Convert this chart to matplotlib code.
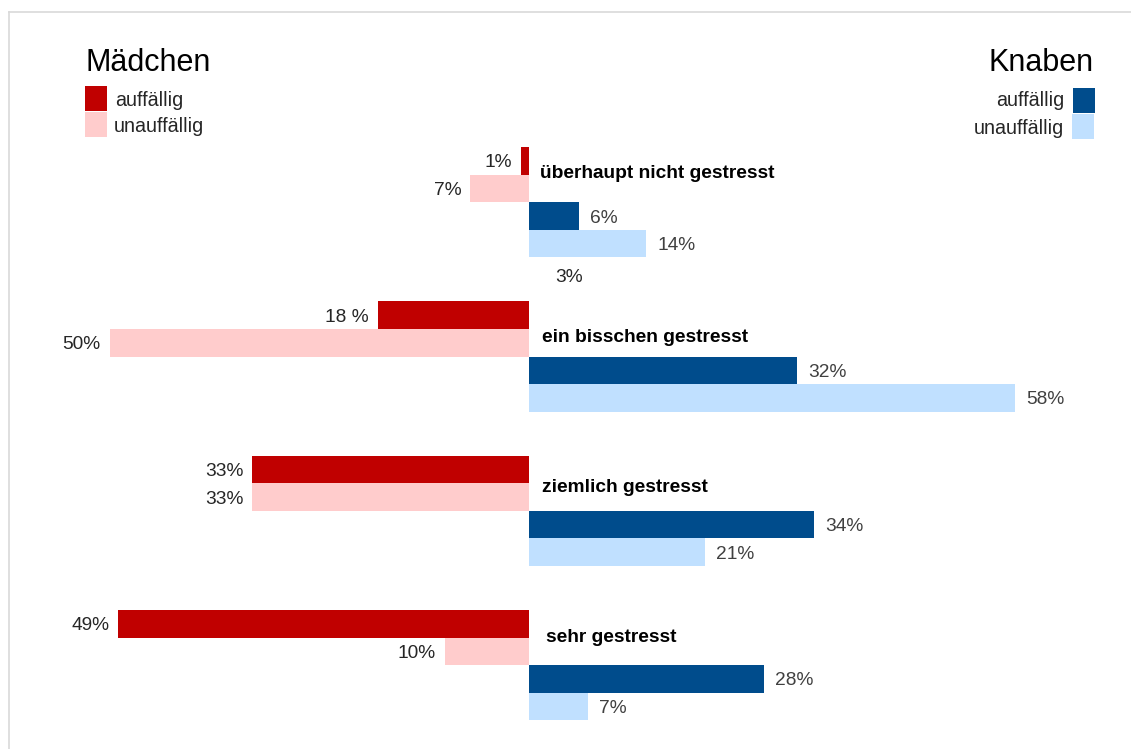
import matplotlib
matplotlib.use("Agg")
import matplotlib.pyplot as plt
from matplotlib.patches import Rectangle
from matplotlib.lines import Line2D

plt.rcParams['font.family'] = ['Liberation Sans', 'DejaVu Sans']

categories = ["überhaupt nicht gestresst", "ein bisschen gestresst",
              "ziemlich gestresst", "sehr gestresst"]
girls_auff = [1, 18, 33, 49]
girls_unauff = [7, 50, 33, 10]
boys_auff = [6, 32, 34, 28]
boys_unauff = [14, 58, 21, 7]
girls_auff_labels = ["1%", "18 %", "33%", "49%"]
girls_unauff_labels = ["7%", "50%", "33%", "10%"]
boys_auff_labels = ["6%", "32%", "34%", "28%"]
boys_unauff_labels = ["14%", "58%", "21%", "7%"]
stray_label = "3%"

C_RED = "#C00000"
C_PINK = "#FFCCCC"
C_BLUE = "#004C8C"
C_LBLUE = "#C0E0FF"

W, H = 1131, 749
fig = plt.figure(figsize=(W / 100, H / 100), dpi=100)
ax = fig.add_axes([0, 0, 1, 1])
PX = 8.385          # pixels per percent
X0 = 529            # zero line in pixels
ax.set_xlim(-X0 / PX, (W - X0) / PX)
ax.set_ylim(H, 0)   # y in pixel units (top = 0)
ax.axis("off")

G0, GSTEP, BH = 147.0, 154.3, 27.6
DY = 2  # text vertical nudge (px)

fs_val = 13.8
for i, cat in enumerate(categories):
    top = G0 + i * GSTEP
    ys = [top + BH * (k + 0.5) for k in range(4)]
    ax.barh(ys[0], -girls_auff[i], height=BH, color=C_RED, linewidth=0)
    ax.barh(ys[1], -girls_unauff[i], height=BH, color=C_PINK, linewidth=0)
    ax.barh(ys[2], boys_auff[i], height=BH, color=C_BLUE, linewidth=0)
    ax.barh(ys[3], boys_unauff[i], height=BH, color=C_LBLUE, linewidth=0)
    for v, y, lab in [(girls_auff[i], ys[0], girls_auff_labels[i]),
                      (girls_unauff[i], ys[1], girls_unauff_labels[i])]:
        ax.annotate(lab, (-v, y), xytext=(-6.5, -1.5), textcoords="offset points",
                    ha="right", va="center", fontsize=fs_val, color="#262626")
    for v, y, lab in [(boys_auff[i], ys[2], boys_auff_labels[i]),
                      (boys_unauff[i], ys[3], boys_unauff_labels[i])]:
        ax.annotate(lab, (v, y), xytext=(8, -1.5), textcoords="offset points",
                    ha="left", va="center", fontsize=fs_val, color="#404040")

def px2x(p):
    return (p - X0) / PX

# category labels
cat_pos = [(540, 171), (542, 335), (542, 486), (546, 636)]
for cat, (px, py) in zip(categories, cat_pos):
    ax.text(px2x(px), py + DY, cat, ha="left", va="center",
            fontsize=13.8, fontweight="bold", color="black")

# stray label
ax.text(px2x(555), 276 + DY, stray_label, ha="left", va="center",
        fontsize=fs_val, color="#262626")

# legends
ax.text(px2x(85), 61 + DY, "Mädchen", ha="left", va="center", fontsize=22, color="black")
ax.text(px2x(1094), 61 + DY, "Knaben", ha="right", va="center", fontsize=22, color="black")

ax.add_patch(Rectangle((px2x(85), 86), 22 / PX, 25, color=C_RED, lw=0))
ax.add_patch(Rectangle((px2x(85), 112), 22 / PX, 25, color=C_PINK, lw=0))
ax.text(px2x(115), 98 + DY, "auffällig", ha="left", va="center", fontsize=14.2, color="#262626")
ax.text(px2x(114), 124 + DY, "unauffällig", ha="left", va="center", fontsize=14.2, color="#262626")

ax.add_patch(Rectangle((px2x(1073), 88), 22 / PX, 25, color=C_BLUE, lw=0))
ax.add_patch(Rectangle((px2x(1072), 114), 22 / PX, 25, color=C_LBLUE, lw=0))
ax.text(px2x(1064), 99 + DY, "auffällig", ha="right", va="center", fontsize=14.2, color="#262626")
ax.text(px2x(1064), 126 + DY, "unauffällig", ha="right", va="center", fontsize=14.2, color="#262626")

# frame lines (left and top)
fig.add_artist(Line2D([9 / W, 9 / W], [0, 1 - 12 / H], transform=fig.transFigure,
                      color="#D9D9D9", lw=1.2))
fig.add_artist(Line2D([9 / W, 1], [1 - 12 / H, 1 - 12 / H], transform=fig.transFigure,
                      color="#D9D9D9", lw=1.2))

fig.savefig("out.png", dpi=100)
